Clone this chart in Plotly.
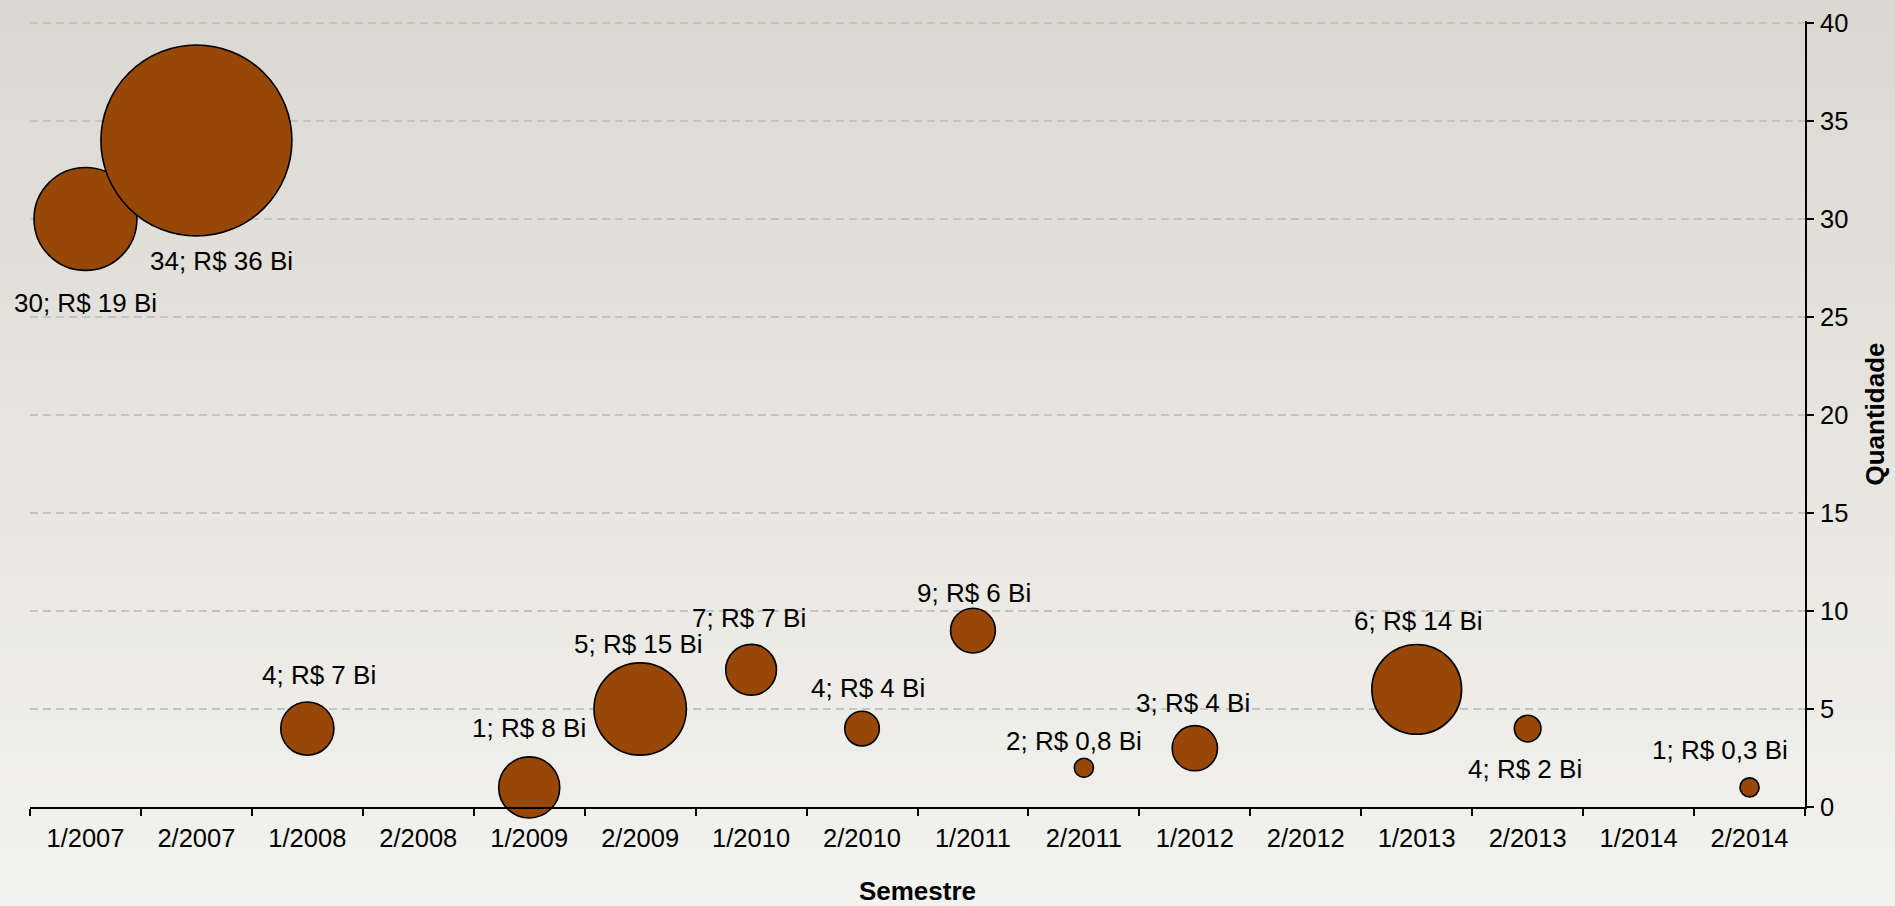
import plotly.graph_objects as go

# ---------------- data ----------------
semestres = ["1/2007", "2/2007", "1/2008", "2/2008", "1/2009", "2/2009", "1/2010", "2/2010",
             "1/2011", "2/2011", "1/2012", "2/2012", "1/2013", "2/2013", "1/2014", "2/2014"]
ponto_semestre = ["1/2007", "2/2007", "1/2008", "1/2009", "2/2009", "1/2010", "2/2010",
                  "1/2011", "2/2011", "1/2012", "1/2013", "2/2013", "2/2014"]
quantidade = [30, 34, 4, 1, 5, 7, 4, 9, 2, 3, 6, 4, 1]
valor_bi = ["19", "36", "7", "8", "15", "7", "4", "6", "0,8", "4", "14", "2", "0,3"]
# bubble size variable (relative area), as read from the drawn bubbles
tamanho_bolha = [10.45, 36, 2.79, 3.68, 8.41, 2.54, 1.18, 1.98, 0.36, 2.02, 7.95, 0.70, 0.36]
y_ticks = [0, 5, 10, 15, 20, 25, 30, 35, 40]

# ---------------- style ----------------
FONT = "Liberation Sans, Arial, sans-serif"
BUBBLE = "#974706"
MAX_DIAM = 191
GRID = "#c4c4c4"
# label offsets from bubble centre (px; dx right, dy up)
label_offsets = [(0, -84), (25, -120), (12, 54), (0, 59), (-2, 65), (-2, 52), (6, 41),
                 (1, 38), (-10, 27), (-2, 45), (2, 68), (-3, -40), (-30, 37)]

W, H = 1895, 906
ML, MR, MT, MB = 30, 90, 21, 99
pw, ph = W - ML - MR, H - MT - MB
Y_PAD = 0.1  # small headroom so the top gridline is drawn

fig = go.Figure()
fig.add_trace(go.Scatter(
    x=ponto_semestre, y=quantidade, mode="markers",
    marker=dict(size=tamanho_bolha, sizemode="area",
                sizeref=2 * max(tamanho_bolha) / MAX_DIAM ** 2,
                color=BUBBLE, opacity=1, line=dict(color="black", width=1.6)),
    hoverinfo="skip", showlegend=False, cliponaxis=False,
))

annotations = []
for xs, q, v, (dx, dy) in zip(ponto_semestre, quantidade, valor_bi, label_offsets):
    annotations.append(dict(
        x=xs, y=q, xref="x", yref="y", text=f"{q}; R$ {v} Bi", showarrow=False,
        xshift=dx, yshift=dy, xanchor="center", yanchor="middle",
        font=dict(family=FONT, size=26, color="black")))

# background gradient (top darker -> bottom lighter)
shapes = []
n = 60
c0 = (219, 216, 209)
c1 = (242, 242, 238)
y_top = 1 + MT / ph
y_bot = -MB / ph
for i in range(n):
    t = i / (n - 1)
    col = tuple(round(c0[k] + (c1[k] - c0[k]) * t) for k in range(3))
    ya = y_top - (y_top - y_bot) * i / n
    yb = y_top - (y_top - y_bot) * (i + 1) / n
    shapes.append(dict(type="rect", xref="paper", yref="paper",
                       x0=-ML / pw - 0.01, x1=1 + MR / pw + 0.01, y0=yb - 0.002, y1=ya + 0.002,
                       fillcolor="rgb(%d,%d,%d)" % col, line=dict(width=0), layer="below"))

fig.update_layout(
    width=W, height=H,
    margin=dict(l=ML, r=MR, t=MT, b=MB, autoexpand=False),
    paper_bgcolor="rgb(230,229,224)", plot_bgcolor="rgba(0,0,0,0)",
    font=dict(family=FONT, color="black"),
    shapes=shapes, annotations=annotations,
    xaxis=dict(
        type="category", categoryorder="array", categoryarray=semestres,
        tickvals=semestres, range=[-0.5, len(semestres) - 0.5],
        tickson="boundaries", ticks="outside", ticklen=7, tickwidth=1.5, tickcolor="black",
        showline=True, linecolor="black", linewidth=2, showgrid=False, zeroline=False,
        ticklabelstandoff=7,
        tickfont=dict(family=FONT, size=25.5, color="black"),
        title=dict(text="<b>Semestre</b>", font=dict(family=FONT, size=26, color="black"), standoff=38),
        automargin=False,
    ),
    yaxis=dict(
        side="right", range=[0, y_ticks[-1] + Y_PAD], tickvals=y_ticks, ticks="outside", ticklen=7,
        tickwidth=1.5, tickcolor="black", showline=True, linecolor="black", linewidth=2,
        showgrid=True, gridcolor=GRID, gridwidth=1.5, griddash="8px,5px",
        zeroline=False, ticklabelstandoff=1,
        tickfont=dict(family=FONT, size=25.5, color="black"),
        title=dict(text="<b>Quantidade</b>", font=dict(family=FONT, size=26, color="black"), standoff=18),
        automargin=False,
    ),
)

fig.write_html("out.html")
